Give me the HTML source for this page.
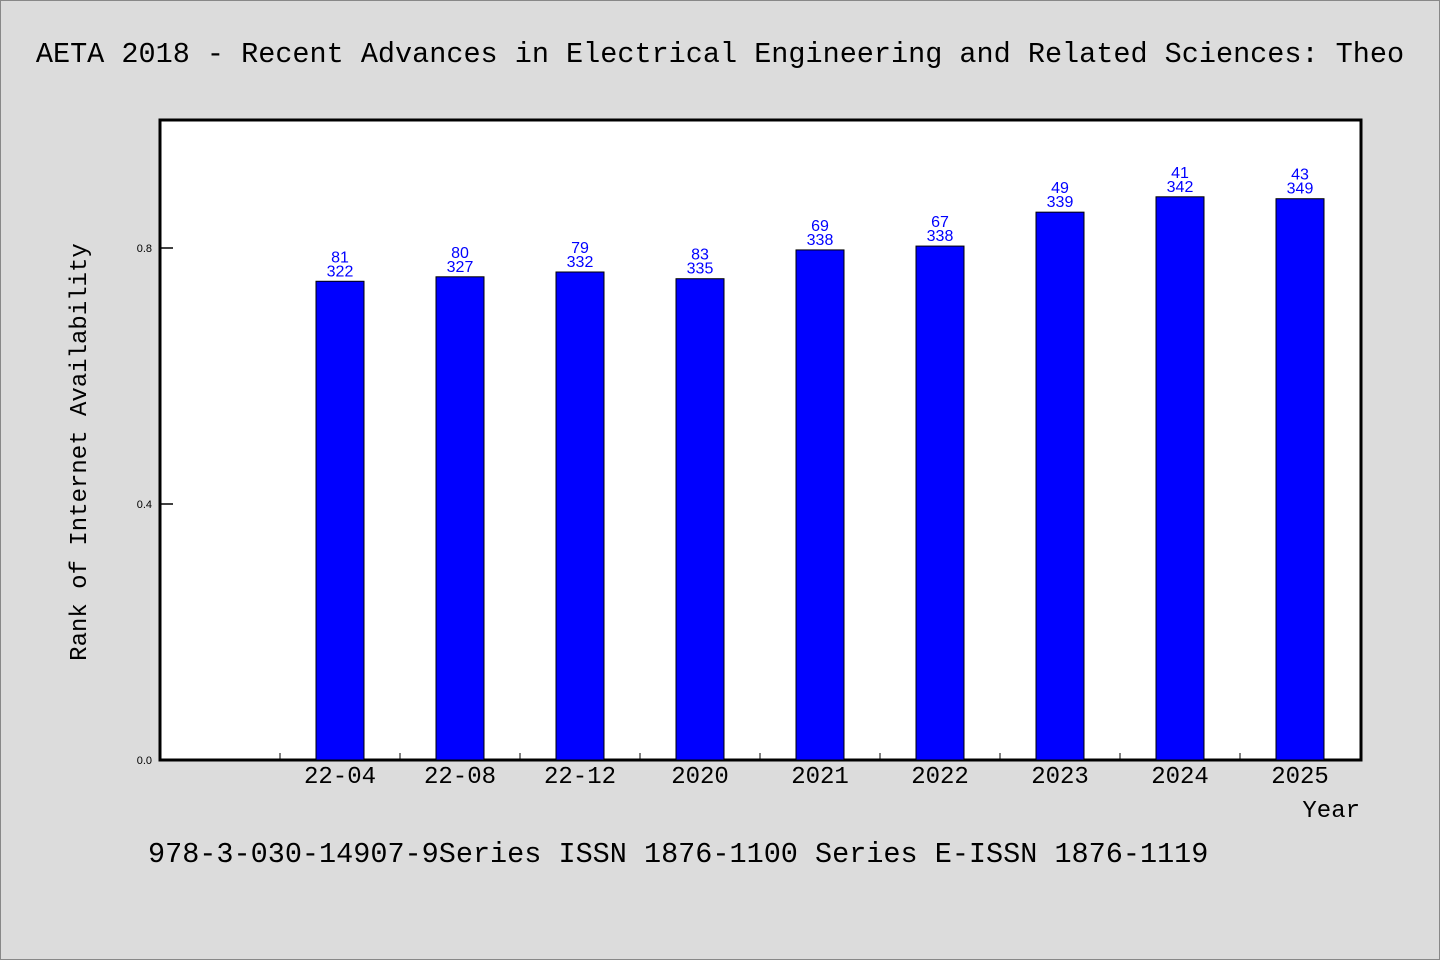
<!DOCTYPE html>
<html><head><meta charset="utf-8"><style>
body{margin:0;background:#dcdcdc;}
svg{display:block;font-family:"Liberation Mono","WenQuanYi Zen Hei",monospace;}
</style></head><body>
<svg width="1440" height="960" xmlns="http://www.w3.org/2000/svg">
<rect x="0.5" y="0.5" width="1439" height="959" fill="#dcdcdc" stroke="#888"/>
<text x="720" y="62" font-size="28.5" text-anchor="middle">AETA 2018 - Recent Advances in Electrical Engineering and Related Sciences: Theo</text>
<rect x="160" y="120" width="1201" height="640" fill="#fff" stroke="#000" stroke-width="3"/>
<g id="bars"></g>
<text transform="translate(86,452) rotate(-90)" font-size="24" text-anchor="middle">Rank of Internet Availability</text>
<text x="1360" y="817" font-size="24" text-anchor="end">Year</text>
<text x="148" y="862" font-size="28.5">978-3-030-14907-9Series ISSN 1876-1100 Series E-ISSN 1876-1119</text>
</svg>
<script>
const categories=["22-04","22-08","22-12","2020","2021","2022","2023","2024","2025"];
const values=[0.748,0.755,0.7625,0.752,0.797,0.803,0.856,0.880,0.877];
const topLabels=["81","80","79","83","69","67","49","41","43"];
const bottomLabels=["322","327","332","335","338","338","339","342","349"];
const yTicks=[0.0,0.4,0.8];
const yTickLabels=["0.0","0.4","0.8"];
const NS="http://www.w3.org/2000/svg";
const g=document.getElementById('bars');
function y(v){return 760-v*640;}
function xc(i){return 340+i*120;}
function mk(t,a){const e=document.createElementNS(NS,t);for(const k in a)e.setAttribute(k,a[k]);g.appendChild(e);return e;}
yTicks.forEach((v,i)=>{
  const l=mk('line',{x1:160,x2:173,y1:y(v),y2:y(v),stroke:'#000','stroke-width':1.5});
  
  
  const t=mk('text',{x:152,y:y(v)+4,'font-size':11,'text-anchor':'end','font-family':'Liberation Sans,sans-serif'});
  t.textContent=yTickLabels[i];
  
  
});
for(let i=0;i<=categories.length;i++){
  const x=280+(i-1)*120+120;
  const l=mk('line',{x1:x-120+0,x2:x-120,y1:760,y2:753,stroke:'#000','stroke-width':1});
  
  
}
categories.forEach((c,i)=>{
  const v=values[i];
  const r=mk('rect',{x:xc(i)-24,y:y(v),width:48,height:760-y(v),fill:'#0000ff',stroke:'#000','stroke-width':1});
  
  
  const t1=mk('text',{x:xc(i),y:y(v)-19,'font-size':16,'text-anchor':'middle',fill:'#0000ff','font-family':'Liberation Sans,sans-serif'});
  t1.textContent=topLabels[i];
  
  
  const t2=mk('text',{x:xc(i),y:y(v)-5,'font-size':16,'text-anchor':'middle',fill:'#0000ff','font-family':'Liberation Sans,sans-serif'});
  t2.textContent=bottomLabels[i];
  
  
  const xl=mk('text',{x:xc(i),y:783,'font-size':24,'text-anchor':'middle'});
  xl.textContent=c;
  
  
});
</script>
</body></html>
